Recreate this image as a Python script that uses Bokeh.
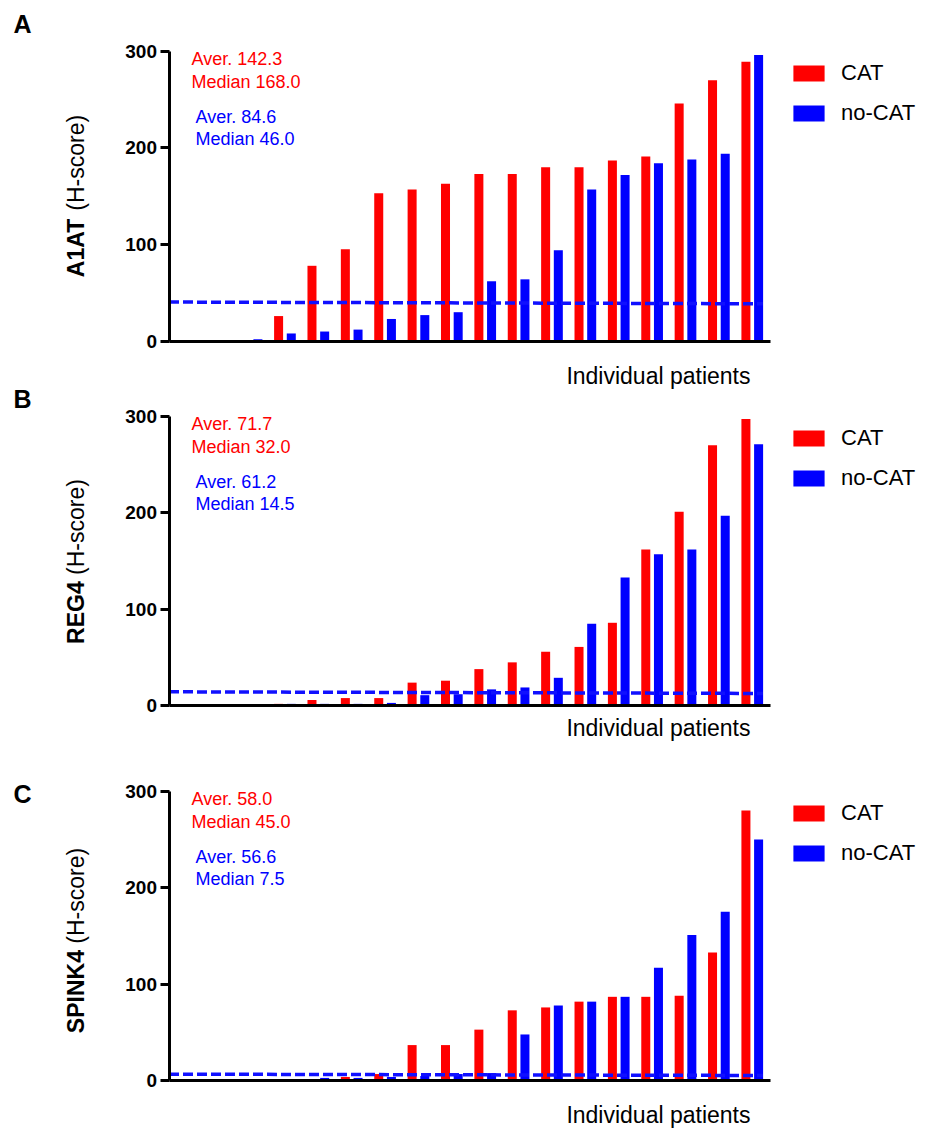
import numpy as np
from math import pi
from bokeh.plotting import figure
from bokeh.models import Range1d, Label, Legend, LegendItem, FixedTicker, LinearAxis
from bokeh.embed import file_html
from bokeh.resources import INLINE

# ---------------- data ----------------
panel_letters = ["A", "B", "C"]
markers = ["A1AT", "REG4", "SPINK4"]
series_names = ["CAT", "no-CAT"]

cat_A = [0, 0, 0, 26, 78, 95, 153, 157, 163, 173, 173, 180, 180, 187, 191, 246, 270, 289]
nocat_A = [0, 0, 2, 8, 10, 12, 23, 27, 30, 62, 64, 94, 157, 172, 184, 188, 194, 296]
cat_B = [0, 0, 0, 2, 6, 8, 8, 24, 26, 38, 45, 56, 61, 86, 162, 201, 270, 297]
nocat_B = [0, 0, 0, 2, 2, 2, 3, 11, 12, 17, 19, 29, 85, 133, 157, 162, 197, 271]
cat_C = [0, 0, 0, 0, 0, 4, 7, 37, 37, 53, 73, 76, 82, 87, 87, 88, 133, 280]
nocat_C = [0, 0, 0, 1, 3, 3, 4, 5, 7, 8, 48, 78, 82, 87, 117, 151, 175, 250]

cat_aver = ["Aver. 142.3", "Aver.  71.7", "Aver. 58.0"]
cat_median = ["Median 168.0", "Median 32.0", "Median 45.0"]
nocat_aver = ["Aver. 84.6", "Aver. 61.2", "Aver. 56.6"]
nocat_median = ["Median 46.0", "Median 14.5", "Median 7.5"]

# dashed reference line (value at left end, value at right end)
dash_left = [40.5, 14.5, 6.9]
dash_right = [38.7, 12.8, 5.5]

y_ticks = [0, 100, 200, 300]
x_label = "Individual patients"
y_unit = "(H-score)"

# ---------------- style / layout (pixels) ----------------
RED = "#ff0000"
BLUE = "#0000ff"
FONT = "Liberation Sans"

BOLD_W = {"A": .722, "1": .556, "T": .611, "R": .722, "E": .667, "G": .778,
          "4": .556, "S": .667, "P": .667, "I": .278, "N": .722, "K": .722}
REG_W = {"(": .333, "H": .722, "-": .333, "s": .5, "c": .5, "o": .556,
         "r": .333, "e": .556, ")": .333, " ": .278}

W, H = 935, 1129
y300_page = [50.7, 415.7, 790.7]   # pixel row of value 300
y0_page = [340.7, 705.3, 1080.3]   # pixel row of value 0
X_PX = 33.38                       # pixels per patient
X0_PX = 184.3                      # pixel column of first patient
AXIS_X_PX = 168.5
AXIS_END_PX = 770
letter_mid = [23.2, 398, 793]
ylab_x = 75.5
ylab_center = [195.5, 561, 940]
xlab_mid = [375.5, 727.5, 1114]
stat_rel = [8, 30.5, 65.8, 87.8]
range_names = ["default", "B", "C"]

all_cat = [cat_A, cat_B, cat_C]
all_nocat = [nocat_A, nocat_B, nocat_C]


def y_range_for(k):
    y300, y0 = y300_page[k], y0_page[k]
    sy = (y0 - y300) / 300.0
    return Range1d((y0 - H) / sy, y0 / sy)


x_start = -X0_PX / X_PX
x_end = (W - X0_PX) / X_PX
ax_loc = (AXIS_X_PX - X0_PX) / X_PX
ax_end = (AXIS_END_PX - X0_PX) / X_PX

p = figure(width=W, height=H, output_backend="svg", toolbar_location=None,
           x_range=Range1d(x_start, x_end), y_range=y_range_for(0),
           x_axis_location=None, y_axis_location=None, min_border=0)
p.extra_y_ranges = {"B": y_range_for(1), "C": y_range_for(2)}
p.outline_line_color = None
p.background_fill_color = "white"
p.border_fill_color = "white"
for g in p.grid:
    g.visible = False


def sy_(page_y):
    return H - page_y


for k in range(3):
    cat = all_cat[k]
    nocat = all_nocat[k]
    n = len(cat)
    xs = np.arange(n)
    rn = range_names[k]

    r1 = p.vbar(x=xs - 0.19, top=cat, width=0.27, bottom=0, color=RED, line_width=0,
                y_range_name=rn)
    r2 = p.vbar(x=xs + 0.19, top=nocat, width=0.27, bottom=0, color=BLUE, line_width=0,
                y_range_name=rn)

    p.segment(x0=[ax_loc], y0=[dash_left[k]], x1=[n - 1 + 0.32], y1=[dash_right[k]],
              line_color="#1010ff", line_width=3.5, line_dash="10 4", y_range_name=rn)

    ya = LinearAxis(fixed_location=ax_loc, bounds=(0, 300), y_range_name=rn)
    ya.ticker = FixedTicker(ticks=y_ticks)
    ya.axis_line_width = 3
    ya.major_tick_line_width = 3
    ya.major_tick_out = 9
    ya.major_tick_in = 0
    ya.minor_tick_line_color = None
    ya.major_label_text_font = FONT
    ya.major_label_text_font_style = "bold"
    ya.major_label_text_font_size = "19px"
    ya.major_label_text_color = "black"
    ya.major_label_standoff = 3
    p.add_layout(ya, "left")

    xa = LinearAxis(fixed_location=0, bounds=(ax_loc, ax_end), y_range_name=rn)
    xa.ticker = FixedTicker(ticks=[])
    xa.axis_line_width = 3
    xa.major_tick_line_color = None
    xa.minor_tick_line_color = None
    xa.major_label_text_font_size = "0px"
    p.add_layout(xa, "below")

    # statistics annotations
    for txt, col, xx, rel in [(cat_aver[k], RED, 191, stat_rel[0]),
                              (cat_median[k], RED, 191, stat_rel[1]),
                              (nocat_aver[k], BLUE, 195, stat_rel[2]),
                              (nocat_median[k], BLUE, 195, stat_rel[3])]:
        p.add_layout(Label(x=xx, y=sy_(y300_page[k] + rel), x_units="screen", y_units="screen",
                           text=txt, text_color=col, text_font=FONT, text_font_size="18px",
                           text_baseline="middle", text_align="left"))

    # panel letter
    p.add_layout(Label(x=13, y=sy_(letter_mid[k]), x_units="screen", y_units="screen",
                       text=panel_letters[k], text_font=FONT, text_font_style="bold",
                       text_font_size="25px", text_baseline="middle", text_color="black"))

    # y label: bold marker + normal unit, rotated
    fs = 23
    bw = sum(BOLD_W[c] for c in markers[k]) * fs
    sw = REG_W[" "] * fs
    uw = sum(REG_W[c] for c in y_unit) * fs
    total = bw + sw + uw
    y_bottom = sy_(ylab_center[k]) - total / 2
    p.add_layout(Label(x=ylab_x, y=y_bottom, x_units="screen", y_units="screen", angle=pi / 2,
                       text=markers[k], text_font=FONT, text_font_style="bold",
                       text_font_size=f"{fs}px", text_baseline="middle",
                       text_align="left", text_color="black"))
    p.add_layout(Label(x=ylab_x, y=y_bottom + bw + sw, x_units="screen", y_units="screen",
                       angle=pi / 2, text=y_unit, text_font=FONT, text_font_size=f"{fs}px",
                       text_baseline="middle", text_align="left", text_color="black"))

    # x label
    p.add_layout(Label(x=750, y=sy_(xlab_mid[k]), x_units="screen", y_units="screen",
                       text=x_label, text_font=FONT, text_font_size="23px",
                       text_baseline="middle", text_align="right", text_color="black"))

    legend_top = y300_page[k] + 11.5
    legend_h = 2 * 25 + 14
    legend = Legend(items=[LegendItem(label=series_names[0], renderers=[r1]),
                           LegendItem(label=series_names[1], renderers=[r2])],
                    location=(789, sy_(legend_top + legend_h)), orientation="vertical",
                    glyph_width=39, glyph_height=20, label_height=20,
                    label_standoff=13, spacing=14, padding=0, margin=0,
                    border_line_color=None, background_fill_alpha=0,
                    label_text_font=FONT, label_text_font_size="22px",
                    label_text_color="black")
    p.add_layout(legend)

open("out.html", "w").write(file_html(p, INLINE))
